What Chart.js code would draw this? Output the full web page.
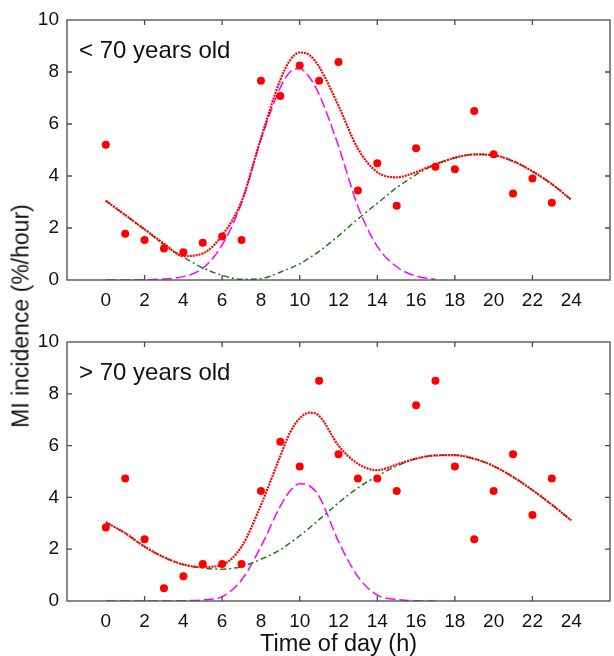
<!DOCTYPE html>
<html>
<head>
<meta charset="utf-8">
<script src="https://cdn.jsdelivr.net/npm/chart.js@4.4.0/dist/chart.umd.min.js"></script>
<style>
  html, body { margin: 0; padding: 0; background: #fff; }
  #wrap { position: relative; width: 614px; height: 656px; overflow: hidden; font-family: "Liberation Sans", Arial, sans-serif; }
  #topChart { position: absolute; left: 0; top: 0; }
  #bottomChart { position: absolute; left: 0; top: 322px; }
  #ytitle { position: absolute; left: 21px; top: 316px; transform: translate(-50%, -50%) rotate(-90deg);
            white-space: nowrap; font-size: 23px; color: #111; }
</style>
</head>
<body>
<div id="wrap">
  <canvas id="topChart" width="614" height="316"></canvas>
  <canvas id="bottomChart" width="614" height="334"></canvas>
  <div id="ytitle">MI incidence (%/hour)</div>
</div>
<script>
// observed hourly incidence
const hours = [0,1,2,3,4,5,6,7,8,9,10,11,12,13,14,15,16,17,18,19,20,21,22,23];
const under70 = [5.2,1.78,1.54,1.21,1.07,1.43,1.67,1.54,7.66,7.08,8.25,7.66,8.38,3.44,4.49,2.86,5.07,4.36,4.26,6.5,4.84,3.33,3.9,2.97];
const over70 = [2.84,4.73,2.38,0.49,0.96,1.43,1.43,1.43,4.25,6.15,5.19,8.5,5.67,4.73,4.73,4.25,7.56,8.5,5.19,2.38,4.25,5.67,3.32,4.73];

const curveHours = [0,1,2,3,4,5,6,7,8,9,9.5,10,10.5,11,12,13,14,15,16,17,18,19,20,21,22,23,24];
const under70Total = [3.05,2.5,1.95,1.4,0.92,1.02,1.72,3.02,5.45,7.7,8.45,8.75,8.65,8.2,6.7,5.05,4.15,3.95,4.15,4.45,4.7,4.83,4.8,4.57,4.18,3.69,3.09];
const under70Slow = [3.05,2.5,1.95,1.35,0.88,0.47,0.18,0.03,0.05,0.3,0.45,0.62,0.85,1.1,1.7,2.35,2.95,3.55,4.05,4.45,4.7,4.83,4.8,4.57,4.18,3.69,3.09];
const under70Peak = [0,0,0.01,0.04,0.13,0.45,1.35,2.96,5.4,7.4,8.0,8.13,7.8,7.14,5.15,2.83,1.29,0.51,0.15,0.03,null,null,null,null,null,null,null];
const over70Total = [3.04,2.62,2.1,1.69,1.41,1.31,1.4,2.1,3.7,5.6,6.5,7.05,7.27,7.15,6.0,5.3,5.05,5.27,5.5,5.62,5.63,5.49,5.21,4.79,4.28,3.72,3.11];
const over70Slow = [3.04,2.62,2.1,1.69,1.4,1.27,1.23,1.33,1.61,1.98,2.24,2.52,2.82,3.14,3.79,4.37,4.82,5.21,5.49,5.62,5.63,5.49,5.21,4.79,4.28,3.72,3.11];
const over70Peak = [0,0,0,0,0.01,0.04,0.17,0.81,2.1,3.66,4.25,4.53,4.45,4.04,2.3,0.94,0.23,0.06,0.01,0,null,null,null,null,null,null,null];

const xTickLabels = [0,2,4,6,8,10,12,14,16,18,20,22,24];
const xTickMarks = [2,6,10,14,18,22];
const yTickMarks = [2,4,6,8];

const FONT = '"Liberation Sans", Arial, sans-serif';

const pts = (xs, ys) => xs.map((x, i) => ({ x: x, y: ys[i] }));

// box round the plot, inner tick marks and the panel label
const framePlugin = {
  id: 'frame',
  afterDatasetsDraw(chart, args, opts) {
    const { ctx, chartArea: a, scales } = chart;
    ctx.save();
    ctx.strokeStyle = '#4a4a4a';
    ctx.lineWidth = 1.3;
    ctx.strokeRect(a.left, a.top, a.right - a.left, a.bottom - a.top);
    ctx.beginPath();
    xTickMarks.forEach(h => {
      const px = scales.x.getPixelForValue(h);
      ctx.moveTo(px, a.bottom); ctx.lineTo(px, a.bottom - 5);
      ctx.moveTo(px, a.top); ctx.lineTo(px, a.top + 5);
    });
    yTickMarks.forEach(v => {
      const py = scales.y.getPixelForValue(v);
      ctx.moveTo(a.left, py); ctx.lineTo(a.left + 5, py);
      ctx.moveTo(a.right, py); ctx.lineTo(a.right - 5, py);
    });
    ctx.stroke();
    ctx.fillStyle = '#111';
    ctx.font = '24px ' + FONT;
    ctx.textBaseline = 'alphabetic';
    ctx.fillText(opts.label, a.left + 12, a.top + 38);
    ctx.restore();
  }
};

function makeChart(id, label, obs, total, slow, peak, xAxisHeight, withTitle) {
  const ctx = document.getElementById(id).getContext('2d');
  return new Chart(ctx, {
    type: 'scatter',
    data: {
      datasets: [
        { data: pts(hours, obs), pointRadius: 4, pointBackgroundColor: '#ff0000', pointBorderWidth: 0, showLine: false },
        { data: pts(curveHours, total), showLine: true, pointRadius: 0, borderColor: '#ff0000', borderWidth: 2.2,
          borderDash: [2, 1], cubicInterpolationMode: 'monotone' },
        { data: pts(curveHours, slow), showLine: true, pointRadius: 0, borderColor: '#1f7a1f', borderWidth: 1.5,
          borderDash: [6, 3, 2, 3], cubicInterpolationMode: 'monotone' },
        { data: pts(curveHours, peak), showLine: true, pointRadius: 0, borderColor: '#ff00ff', borderWidth: 1.5,
          borderDash: [10, 4], cubicInterpolationMode: 'monotone', spanGaps: false }
      ]
    },
    options: {
      responsive: false,
      animation: false,
      devicePixelRatio: 1,
      layout: { padding: { top: 20, right: 1, left: 0, bottom: 0 } },
      plugins: {
        legend: { display: false },
        tooltip: { enabled: false },
        frame: { label: label }
      },
      scales: {
        x: {
          type: 'linear', min: -2, max: 26,
          grid: { display: false, drawTicks: false, tickLength: 0 }, border: { display: false },
          afterBuildTicks: s => { s.ticks = xTickLabels.map(v => ({ value: v })); },
          ticks: { color: '#111', padding: 9, font: { size: 19, family: FONT }, maxRotation: 0, autoSkip: false },
          title: { display: withTitle, text: 'Time of day (h)', color: '#111', padding: { top: 0, bottom: -3 },
                   font: { size: 23.5, family: FONT } },
          afterFit: s => { s.height = xAxisHeight; }
        },
        y: {
          min: 0, max: 10,
          grid: { display: false, drawTicks: false, tickLength: 0 }, border: { display: false },
          ticks: { stepSize: 2, color: '#111', padding: 8, font: { size: 19, family: FONT } },
          afterFit: s => { s.width = 67; }
        }
      }
    },
    plugins: [framePlugin]
  });
}

makeChart('topChart', '< 70 years old', under70, under70Total, under70Slow, under70Peak, 36, false);
makeChart('bottomChart', '> 70 years old', over70, over70Total, over70Slow, over70Peak, 55, true);
</script>
</body>
</html>
